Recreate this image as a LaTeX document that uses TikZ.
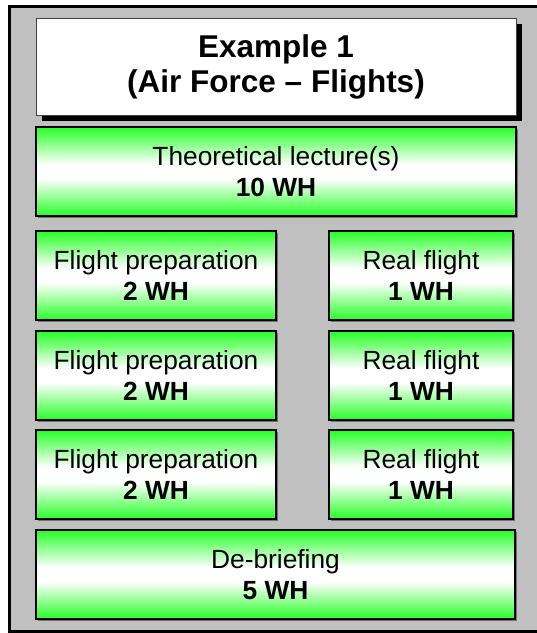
\documentclass[tikz,border=0pt]{standalone}
\usepackage{fontspec}
\setmainfont{Liberation Sans}
\usetikzlibrary{positioning,shadows}
\definecolor{boxgreen}{RGB}{35,255,35}
\definecolor{panel}{RGB}{192,192,192}

\begin{document}
\begin{tikzpicture}[x=1pt,y=1pt,node distance=11pt,
    titlebox/.style={draw=black!75,line width=1pt,fill=white,align=center,
      inner sep=0pt,outer sep=0pt,minimum width=480pt,minimum height=97pt,
      font=\bfseries\fontsize{31.5}{35}\selectfont,
      drop shadow={shadow xshift=6pt,shadow yshift=-6pt,opacity=1,fill=black}},
    % green -> white -> green, in thin strips
    greenfade/.style={path picture={
      \foreach \k in {0,...,44}{
        \pgfmathsetmacro\t{(\k+0.5)/45}
        \pgfmathsetmacro\mix{100*max(0,(0.42-\t)/0.42,(\t-0.58)/0.42)}
        \fill[boxgreen!\mix!white]
          ([yshift={-\k*2pt}]path picture bounding box.north west) rectangle
          ([yshift={-\k*2pt-2.6pt}]path picture bounding box.north east);
      }}},
    lesson/.style={draw,line width=1.5pt,fill=white,greenfade,align=center,
      inner sep=0pt,outer sep=0pt,minimum height=89pt,
      font=\fontsize{26.3}{31}\selectfont,
      drop shadow={shadow xshift=2pt,shadow yshift=-2pt,opacity=1,fill=black!55}}]
  \useasboundingbox (0,0) rectangle (537,-633);
  % grey panel
  \draw[line width=3pt,fill=panel] (9,-6) rectangle (560,-631);

  \node[titlebox] (title) at (276,-66.5) {Example 1\\(Air Force – Flights)};
  \node[lesson,minimum width=480pt,below=12pt of title] (theo) {Theoretical lecture(s)\\\textbf{10 WH}};

  \node[lesson,minimum width=240pt,below right=15pt and 0pt of theo.south west] (prep1) {Flight preparation\\\textbf{2 WH}};
  \node[lesson,minimum width=184pt,right=53pt of prep1] (fly1) {Real flight\\\textbf{1 WH}};
  \node[lesson,minimum width=240pt,below=of prep1] (prep2) {Flight preparation\\\textbf{2 WH}};
  \node[lesson,minimum width=184pt,right=53pt of prep2] (fly2) {Real flight\\\textbf{1 WH}};
  \node[lesson,minimum width=240pt,below=10pt of prep2] (prep3) {Flight preparation\\\textbf{2 WH}};
  \node[lesson,minimum width=184pt,right=53pt of prep3] (fly3) {Real flight\\\textbf{1 WH}};

  \node[lesson,minimum width=479pt,below right=11pt and 0pt of prep3.south west] (debrief) {De-briefing\\\textbf{5 WH}};
\end{tikzpicture}
\end{document}
